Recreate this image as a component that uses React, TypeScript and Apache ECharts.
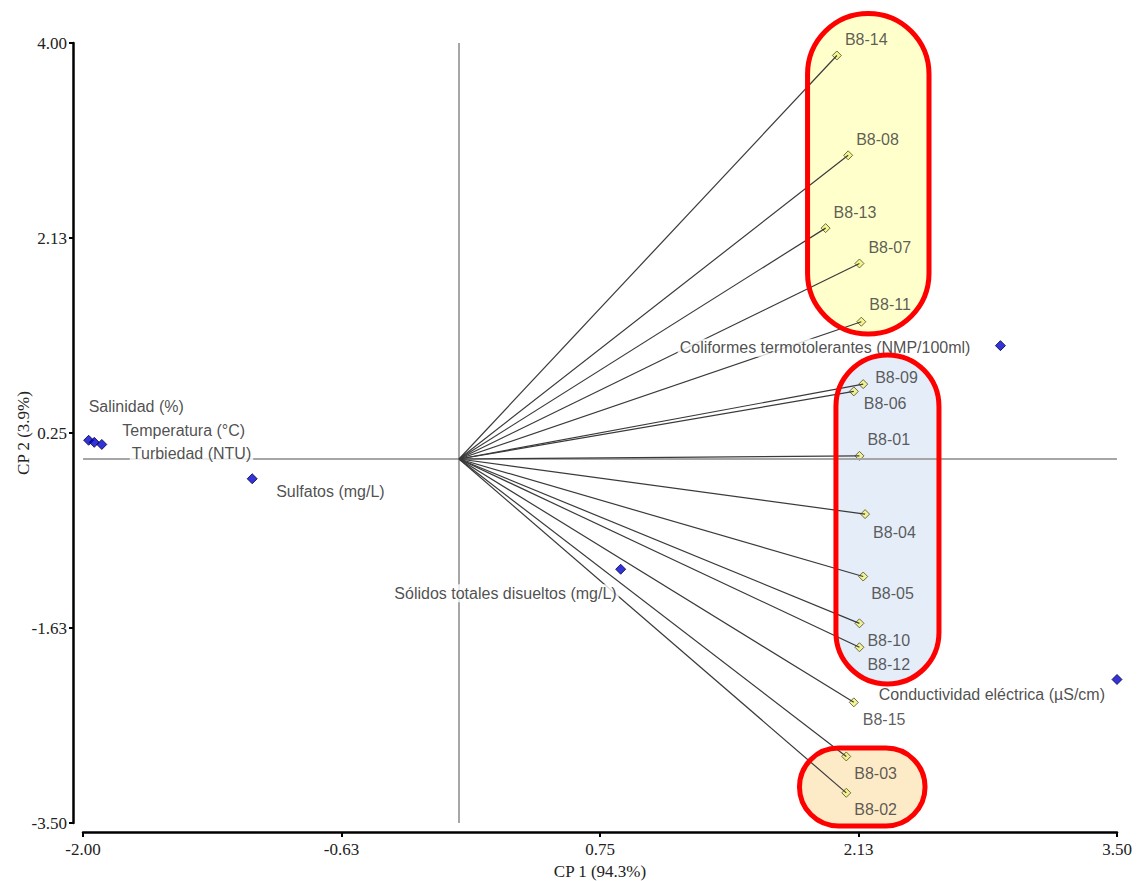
import React, { useEffect, useRef } from "react";
import * as echarts from "echarts";

// ---- data ----
const sampleNames = ["B8-14", "B8-08", "B8-13", "B8-07", "B8-11", "B8-09", "B8-06", "B8-01", "B8-04", "B8-05", "B8-10", "B8-12", "B8-15", "B8-03", "B8-02"];
const sampleCP1 = [2.01, 2.07, 1.95, 2.13, 2.14, 2.15, 2.10, 2.13, 2.16, 2.15, 2.13, 2.13, 2.10, 2.06, 2.06];
const sampleCP2 = [3.88, 2.92, 2.22, 1.88, 1.32, 0.72, 0.65, 0.03, -0.53, -1.13, -1.58, -1.81, -2.34, -2.86, -3.21];

const variableNames = [
  "Salinidad (%)",
  "Temperatura (°C)",
  "Turbiedad (NTU)",
  "Sulfatos (mg/L)",
  "Sólidos totales disueltos (mg/L)",
  "Coliformes termotolerantes (NMP/100ml)",
  "Conductividad eléctrica (µS/cm)",
];
const variableCP1 = [-1.97, -1.94, -1.90, -1.10, 0.86, 2.88, 3.50];
const variableCP2 = [0.18, 0.16, 0.14, -0.19, -1.06, 1.09, -2.12];

const xTicks = [-2, -0.625, 0.75, 2.125, 3.5];
const yTicks = [-3.5, -1.625, 0.25, 2.125, 4];

// ---- layout (label placement, highlight groups) ----
const sampleLabelOffsets = [
  [8, -16], [8, -16], [8, -16], [9, -16], [8, -17], [12, -7], [10, 12], [8, -16],
  [8, 18], [8, 17], [8, 17], [8, 17], [9, 17], [8, 17], [8, 17],
];
const variableLabelLayout = [
  { align: "left", dx: -2, dy: -34 },
  { align: "left", dx: 26, dy: -12 },
  { align: "left", dx: 28, dy: 9 },
  { align: "left", dx: 22, dy: 13 },
  { align: "right", dx: -2, dy: 24 },
  { align: "right", dx: -28, dy: 2 },
  { align: "right", dx: -10, dy: 15 },
];
const groupBoxes = [
  { x0: 1.854, x1: 2.5, y0: 1.202, y1: 4.284, fill: "#FFFFCC" },
  { x0: 2.005, x1: 2.553, y0: -2.163, y1: 1.0, fill: "#E5EDF8" },
  { x0: 1.811, x1: 2.479, y0: -3.529, y1: -2.779, fill: "#FDEBC8" },
];

const SANS = "'Liberation Sans', Arial, sans-serif";
const SERIF = "'Liberation Serif', 'Times New Roman', serif";

export default function App() {
  const ref = useRef<HTMLDivElement>(null);

  useEffect(() => {
    if (!ref.current) return;
    const chart = echarts.init(ref.current, undefined, { renderer: "svg" });

    const fmt = (v: number) => Number(v).toFixed(2);

    const option: any = {
      animation: false,
      backgroundColor: "#ffffff",
      grid: { left: 83, right: 23, top: 43, bottom: 58, containLabel: false, outerBoundsMode: "none" },
      xAxis: {
        type: "value",
        min: -2,
        max: 3.5,
        offset: 9,
        name: "CP 1 (94.3%)",
        nameLocation: "middle",
        nameGap: 31,
        nameMoveOverlap: false,
        nameTextStyle: { fontFamily: SERIF, fontSize: 17, color: "#222" },
        axisLine: { show: true, onZero: false, lineStyle: { color: "#000", width: 2.5 } },
        axisTick: { show: true, length: 5, customValues: xTicks, lineStyle: { color: "#000", width: 2 } },
        axisLabel: { customValues: xTicks, formatter: fmt, fontFamily: SERIF, fontSize: 17, color: "#222", margin: 9 },
        splitLine: { show: false },
      },
      yAxis: {
        type: "value",
        min: -3.5,
        max: 4,
        offset: 10,
        name: "CP 2 (3.9%)",
        nameLocation: "middle",
        nameGap: 41,
        nameMoveOverlap: false,
        nameTextStyle: { fontFamily: SERIF, fontSize: 17, color: "#222" },
        axisLine: { show: true, onZero: false, lineStyle: { color: "#000", width: 2.5 } },
        axisTick: { show: true, length: 4, customValues: yTicks, lineStyle: { color: "#000", width: 2 } },
        axisLabel: { customValues: yTicks, formatter: fmt, fontFamily: SERIF, fontSize: 17, color: "#222", margin: 6 },
        splitLine: { show: false },
      },
      series: [
        {
          type: "scatter",
          name: "origin",
          z: 1,
          data: [],
          markLine: {
            silent: true,
            symbol: ["none", "none"],
            label: { show: false },
            lineStyle: { color: "#a6a6a6", width: 2, type: "solid" },
            data: [{ xAxis: 0 }, { yAxis: 0 }],
          },
        },
        {
          type: "scatter",
          name: "Muestras",
          z: 3,
          clip: false,
          symbol: "diamond",
          symbolSize: 9,
          itemStyle: { color: "#F2F27A", borderColor: "#4a4a2a", borderWidth: 1 },
          data: sampleNames.map((n, i) => ({
            name: n,
            value: [sampleCP1[i], sampleCP2[i]],
            label: {
              show: true,
              position: "inside",
              align: "left",
              verticalAlign: "middle",
              offset: sampleLabelOffsets[i],
            },
          })),
          label: {
            show: true,
            formatter: (p: any) => p.name,
            fontFamily: SANS,
            fontSize: 16,
            color: "#333",
          },
          markLine: {
            silent: true,
            symbol: ["none", "none"],
            label: { show: false },
            lineStyle: { color: "#3a3a3a", width: 1.2, type: "solid" },
            data: sampleNames.map((n, i) => [
              { coord: [0, 0] },
              { coord: [sampleCP1[i], sampleCP2[i]] },
            ]),
          },
        },
        {
          type: "scatter",
          name: "Variables",
          z: 5,
          clip: false,
          symbol: "diamond",
          symbolSize: 10,
          itemStyle: { color: "#0000CC", borderColor: "#000044", borderWidth: 1 },
          data: variableNames.map((n, i) => ({
            name: n,
            value: [variableCP1[i], variableCP2[i]],
            label: {
              show: true,
              position: "inside",
              align: variableLabelLayout[i].align,
              verticalAlign: "middle",
              offset: [variableLabelLayout[i].dx, variableLabelLayout[i].dy],
            },
          })),
          label: {
            show: true,
            formatter: (p: any) => p.name,
            fontFamily: SANS,
            fontSize: 16,
            color: "#222",
            backgroundColor: "#ffffff",
            padding: [1, 2],
          },
        },
      ],
    };

    chart.setOption(option);

    const fills: any[] = [];
    const strokes: any[] = [];
    groupBoxes.forEach((b) => {
      const p0 = chart.convertToPixel({ gridIndex: 0 }, [b.x0, b.y1]) as number[];
      const p1 = chart.convertToPixel({ gridIndex: 0 }, [b.x1, b.y0]) as number[];
      const w = p1[0] - p0[0];
      const h = p1[1] - p0[1];
      const r = Math.min(w, h) / 2;
      const shape = { x: p0[0], y: p0[1], width: w, height: h, r };
      fills.push({ type: "rect", z: 0, silent: true, shape, style: { fill: b.fill } });
      strokes.push({ type: "rect", z: 100, silent: true, shape, style: { fill: "none", stroke: "#FF0000", lineWidth: 5 } });
    });
    chart.setOption({ graphic: [...fills, ...strokes] });

    return () => chart.dispose();
  }, []);

  return (
    <div
      ref={ref}
      style={{ position: "absolute", left: 0, top: 0, width: 1140, height: 881 }}
    />
  );
}
